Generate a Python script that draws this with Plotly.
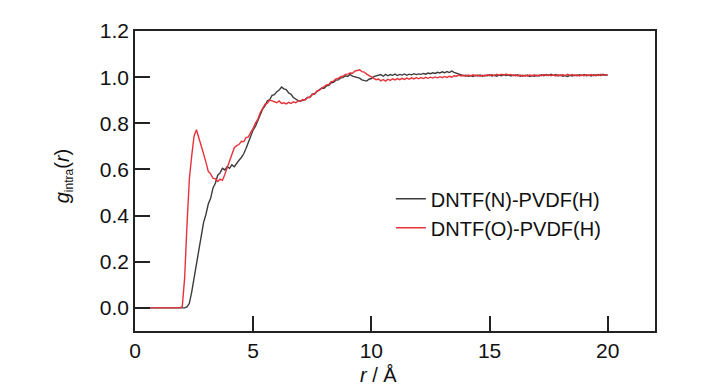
import plotly.graph_objects as go

r_values = [round(i * 0.1, 1) for i in range(201)]

g_N = [0.0] * 22 + [
    0.004, 0.02, 0.07, 0.13, 0.19, 0.255, 0.31, 0.37,
    0.405, 0.45, 0.475, 0.52, 0.54, 0.575, 0.585, 0.605, 0.598, 0.612,
    0.605, 0.62, 0.612, 0.628, 0.64, 0.652, 0.668, 0.692, 0.718, 0.742,
    0.772, 0.788, 0.812, 0.834, 0.862, 0.876, 0.898, 0.903, 0.921, 0.924,
    0.937, 0.944, 0.957, 0.949, 0.946, 0.932, 0.926, 0.912, 0.906, 0.898,
    0.897, 0.901, 0.904, 0.912, 0.913, 0.926, 0.928, 0.938, 0.944, 0.953,
    0.952, 0.962, 0.964, 0.976, 0.978, 0.987, 0.988, 0.997, 0.998, 1.006,
    1.003, 1.012, 1.004, 1.002, 0.997, 0.996, 0.988, 0.986, 0.983, 0.991,
    0.994, 1.002, 1.004, 1.007, 1.011, 1.004, 1.012, 1.006, 1.011, 1.008,
    1.013, 1.007, 1.012, 1.009, 1.014, 1.008, 1.013, 1.010, 1.015, 1.011,
    1.014, 1.012, 1.016, 1.013, 1.018, 1.015, 1.019, 1.016, 1.021, 1.018,
    1.023, 1.019, 1.024, 1.020, 1.026, 1.021, 1.018, 1.013, 1.010, 1.006,
    1.008, 1.004, 1.007, 1.003, 1.008, 1.005, 1.009, 1.004, 1.008, 1.006,
    1.010, 1.005, 1.008, 1.004, 1.009, 1.006, 1.011, 1.007, 1.010, 1.005,
    1.009, 1.006, 1.010, 1.004, 1.008, 1.005, 1.009, 1.003, 1.007, 1.004,
    1.008, 1.005, 1.010, 1.006, 1.011, 1.007, 1.012, 1.008, 1.011, 1.005,
    1.009, 1.004, 1.007, 1.003, 1.008, 1.005, 1.009, 1.006, 1.010, 1.007,
    1.011, 1.006, 1.009, 1.005, 1.010, 1.006, 1.011, 1.007, 1.012, 1.008,
    1.010,
]

g_O = [0.0] * 20 + [
    0.006, 0.13, 0.36, 0.56, 0.66, 0.745, 0.772, 0.738, 0.712, 0.668,
    0.632, 0.592, 0.581, 0.562, 0.559, 0.548, 0.558, 0.553, 0.578, 0.606,
    0.642, 0.668, 0.694, 0.703, 0.708, 0.722, 0.72, 0.738, 0.741, 0.762,
    0.778, 0.802, 0.818, 0.847, 0.862, 0.882, 0.887, 0.901, 0.897, 0.894,
    0.889, 0.897, 0.886, 0.889, 0.884, 0.891, 0.886, 0.893, 0.889, 0.897,
    0.895, 0.903, 0.901, 0.912, 0.913, 0.925, 0.927, 0.941, 0.943, 0.952,
    0.958, 0.966, 0.968, 0.981, 0.983, 0.992, 0.994, 1.002, 1.004, 1.012,
    1.013, 1.018, 1.017, 1.026, 1.029, 1.032, 1.024, 1.022, 1.013, 1.007,
    0.999, 0.996, 0.989, 0.992, 0.984, 0.990, 0.983, 0.991, 0.986, 0.993,
    0.988, 0.994, 0.989, 0.995, 0.990, 0.996, 0.991, 0.997, 0.992, 0.998,
    0.993, 0.998, 0.994, 0.999, 0.995, 1.000, 0.996, 1.001, 0.997, 1.002,
    0.998, 1.003, 0.999, 1.004, 1.000, 1.006, 1.004, 1.009, 1.005, 1.008,
    1.004, 1.009, 1.005, 1.010, 1.006, 1.009, 1.004, 1.008, 1.005, 1.010,
    1.006, 1.011, 1.007, 1.012, 1.008, 1.013, 1.009, 1.014, 1.010, 1.012,
    1.006, 1.010, 1.005, 1.009, 1.004, 1.008, 1.005, 1.009, 1.006, 1.010,
    1.005, 1.009, 1.006, 1.011, 1.007, 1.010, 1.006, 1.009, 1.005, 1.010,
    1.006, 1.011, 1.007, 1.012, 1.008, 1.011, 1.006, 1.010, 1.005, 1.009,
    1.006, 1.010, 1.007, 1.011, 1.006, 1.010, 1.007, 1.012, 1.008, 1.011,
    1.009,
]

series_names = ["DNTF(N)-PVDF(H)", "DNTF(O)-PVDF(H)"]
series_colors = ["#3c3c3c", "#e8323a"]

x_ticks = [0, 5, 10, 15, 20]
y_ticks = [0.0, 0.2, 0.4, 0.6, 0.8, 1.0, 1.2]

FONT = "Liberation Sans, Arial, sans-serif"

fig = go.Figure()
for name, ys, col in zip(series_names, [g_N, g_O], series_colors):
    fig.add_trace(go.Scatter(x=r_values, y=ys, mode="lines", name=name,
                             line=dict(color=col, width=1.4)))

axis_common = dict(
    showline=True, linecolor="#222222", linewidth=1.6, mirror=True,
    ticks="inside", ticklen=15, tickwidth=1.6, tickcolor="#222222",
    showgrid=False, zeroline=False,
    tickfont=dict(family=FONT, size=21, color="#111111"),
)

fig.update_xaxes(range=[0, 22], tickvals=x_ticks,
                 ticktext=[str(v) for v in x_ticks], **axis_common)
fig.update_yaxes(range=[-0.1, 1.2], tickvals=y_ticks,
                 ticktext=[f"{v:.1f}" for v in y_ticks], **axis_common)

fig.update_layout(
    width=720, height=382,
    margin=dict(l=127, r=73, t=11, b=59),
    paper_bgcolor="white", plot_bgcolor="white",
    font=dict(family=FONT, size=20, color="#111111"),
    showlegend=True,
    legend=dict(x=0.492, y=0.506, xanchor="left", yanchor="top",
                bgcolor="rgba(0,0,0,0)", borderwidth=0,
                font=dict(family=FONT, size=20, color="#111111"),
                tracegroupgap=0),
    annotations=[
        dict(text="<i>r</i> / Å", xref="paper", yref="paper",
             x=0.469, y=-0.147, xanchor="center", yanchor="middle",
             showarrow=False, font=dict(family=FONT, size=20, color="#111111")),
        dict(text="<i>g</i><sub><span style='font-size:12px'>intra</span></sub>(<i>r</i>)",
             xref="paper", yref="paper",
             x=-0.137, y=0.515, xanchor="center", yanchor="middle",
             textangle=-90, showarrow=False,
             font=dict(family=FONT, size=20, color="#111111")),
    ],
)

fig.write_html("out.html")
